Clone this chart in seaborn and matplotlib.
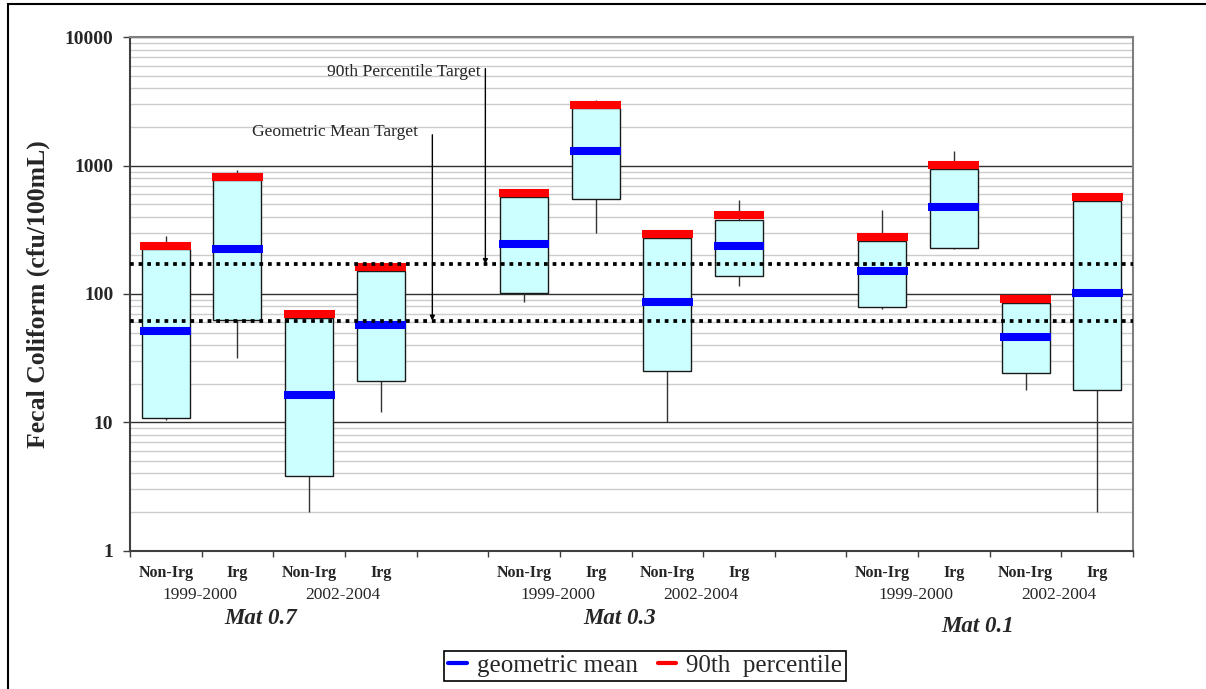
import pandas as pd
import seaborn as sns
import matplotlib.pyplot as plt
import matplotlib.transforms as mtransforms
from matplotlib.lines import Line2D
from matplotlib.patches import Rectangle
from matplotlib.ticker import LogLocator, FixedLocator

sns.set_theme(style="white")
plt.rcParams["font.family"] = ["Liberation Serif", "DejaVu Serif"]

# =========================
# Data
# =========================
sites = ["Mat 0.7", "Mat 0.3", "Mat 0.1"]
periods = ["1999-2000", "2002-2004"]
treatments = ["Non-Irg", "Irg"]

# one value per box, order: site -> period -> treatment
whisker_low = [10.5, 32, 2.0, 12, 87, 298, 10, 116, 77, 223, 18, 2.0]
box_low = [10.9, 63, 3.85, 21, 101, 551, 25, 139, 79, 228, 24.4, 17.8]
box_high = [223, 775, 65, 150, 574, 2790, 272, 380, 259, 949, 85, 532]
whisker_high = [284, 923, 65, 150, 574, 3260, 272, 541, 450, 1300, 85, 532]
geo_mean = [51.5, 226, 16.4, 57, 244, 1290, 86, 238, 150, 480, 46, 101]
pct90 = [237, 822, 70, 161, 611, 2960, 292, 411, 277, 1020, 91, 574]

geo_mean_target = 62
pct90_target = 171

# =========================
# Build table
# =========================
rows = []
for s_i, site in enumerate(sites):
    for p_i, period in enumerate(periods):
        for t_i, treat in enumerate(treatments):
            rows.append({"site": site, "period": period, "treatment": treat,
                         "slot": s_i * 5 + p_i * 2 + t_i})
df = pd.DataFrame(rows)
df["wlo"] = whisker_low
df["lo"] = box_low
df["hi"] = box_high
df["whi"] = whisker_high
df["gmean"] = geo_mean
df["p90"] = pct90

# =========================
# Figure
# =========================
fig = plt.figure(figsize=(12.06, 6.89), dpi=100)
ax = fig.add_axes([0.1078, 0.2007, 0.8317, 0.7452])
ax.set_yscale("log")
ax.set_ylim(1, 10000)
ax.set_xlim(-0.5, 13.5)

# gridlines (Excel style)
ax.yaxis.set_minor_locator(LogLocator(base=10, subs=range(2, 10)))
ax.grid(which="minor", axis="y", color="#cccccc", lw=1, zorder=0)
ax.grid(which="major", axis="y", color="#303030", lw=1, zorder=0)
ax.set_axisbelow(True)

x = df["slot"]
box_w = 0.67
bar_w = 0.71

# whiskers
ax.vlines(x, df["wlo"], df["lo"], color="#333333", lw=1, zorder=2)
ax.vlines(x, df["hi"], df["whi"], color="#333333", lw=1, zorder=2)

# boxes
ax.bar(x, df["hi"] - df["lo"], bottom=df["lo"], width=box_w,
       color="#ccffff", edgecolor="#1a1a1a", linewidth=1, zorder=3)

# geometric mean and 90th percentile
ax.hlines(df["gmean"], x - bar_w / 2, x + bar_w / 2, color="#0000ff", lw=5.8, zorder=4)
ax.hlines(df["p90"], x - bar_w / 2, x + bar_w / 2, color="#ff0000", lw=5.8, zorder=4)

# targets
ax.axhline(pct90_target, color="black", lw=2.7, linestyle=(0, (1, 1.3)), zorder=5)
ax.axhline(geo_mean_target, color="black", lw=2.7, linestyle=(0, (1, 1.3)), zorder=5)

arrow = dict(arrowstyle="-|>", color="black", lw=1, mutation_scale=7, shrinkA=0, shrinkB=0)
ax.annotate("", xy=(4.46, pct90_target), xytext=(4.46, 5700), arrowprops=arrow, zorder=6)
ax.annotate("", xy=(3.72, geo_mean_target), xytext=(3.72, 1740), arrowprops=arrow, zorder=6)
ax.text(4.39, 5383, "90th Percentile Target", ha="right", va="center", fontsize=12.6)
ax.text(3.525, 1834, "Geometric Mean Target", ha="right", va="center", fontsize=12.6)

# y axis
ax.set_yticks([1, 10, 100, 1000, 10000])
ax.set_yticklabels(["1", "10", "100", "1000", "10000"], fontsize=14, fontweight="bold")
ax.tick_params(axis="y", which="major", left=True, length=5, width=1, color="#404040", pad=7)
ax.tick_params(axis="y", which="minor", length=0)

# x axis: labels at slot centers, ticks at slot boundaries
slot_labels = [""] * 14
for _, r in df.iterrows():
    slot_labels[r["slot"]] = r["treatment"]
ax.set_xticks(range(14))
ax.set_xticklabels(slot_labels, fontsize=11.5, fontweight="bold")
ax.xaxis.set_minor_locator(FixedLocator([i - 0.5 for i in range(15)]))
ax.tick_params(axis="x", which="major", length=0, pad=10)
ax.tick_params(axis="x", which="minor", bottom=True, length=4, width=1, color="#404040")

trans = mtransforms.blended_transform_factory(ax.transData, fig.transFigure)
for s_i, site in enumerate(sites):
    for p_i, period in enumerate(periods):
        xc = s_i * 5 + p_i * 2 + 0.47
        ax.text(xc, 1 - 595 / 689, period, transform=trans, ha="center", va="center",
                fontsize=12.5)
    y_site = 1 - (627 if s_i == 2 else 619) / 689
    ax.text(s_i * 5 + 1.33, y_site, site, transform=trans, ha="center", va="center",
            fontsize=16.5, fontweight="bold", fontstyle="italic")

for side in ["left", "bottom"]:
    ax.spines[side].set_color("#404040")
    ax.spines[side].set_linewidth(1.5)
for side in ["top", "right"]:
    ax.spines[side].set_color("#808080")
    ax.spines[side].set_linewidth(1.5)

fig.text(38 / 1206, 1 - 294 / 689, "Fecal Coliform (cfu/100mL)", rotation=90,
         ha="center", va="center", fontsize=18.5, fontweight="bold")

# legend
handles = [Line2D([0], [0], color="#0000ff", lw=3),
           Line2D([0], [0], color="#ff0000", lw=3)]
leg = fig.legend(handles, ["geometric mean", "90th  percentile"], loc="center",
                 bbox_to_anchor=(0.535, 0.034), ncol=2, frameon=True, fancybox=False,
                 edgecolor="black", framealpha=1, fontsize=18, handlelength=0.75,
                 handletextpad=0.4, columnspacing=0.8, borderpad=0.15)
leg.get_frame().set_linewidth(1.2)

# outer border
fig.patches.append(Rectangle((8 / 1206, -0.05), 1.2, 1.05 - 3.5 / 689,
                             transform=fig.transFigure, fill=False,
                             edgecolor="black", lw=1.5))

fig.savefig("out.png", dpi=100)
